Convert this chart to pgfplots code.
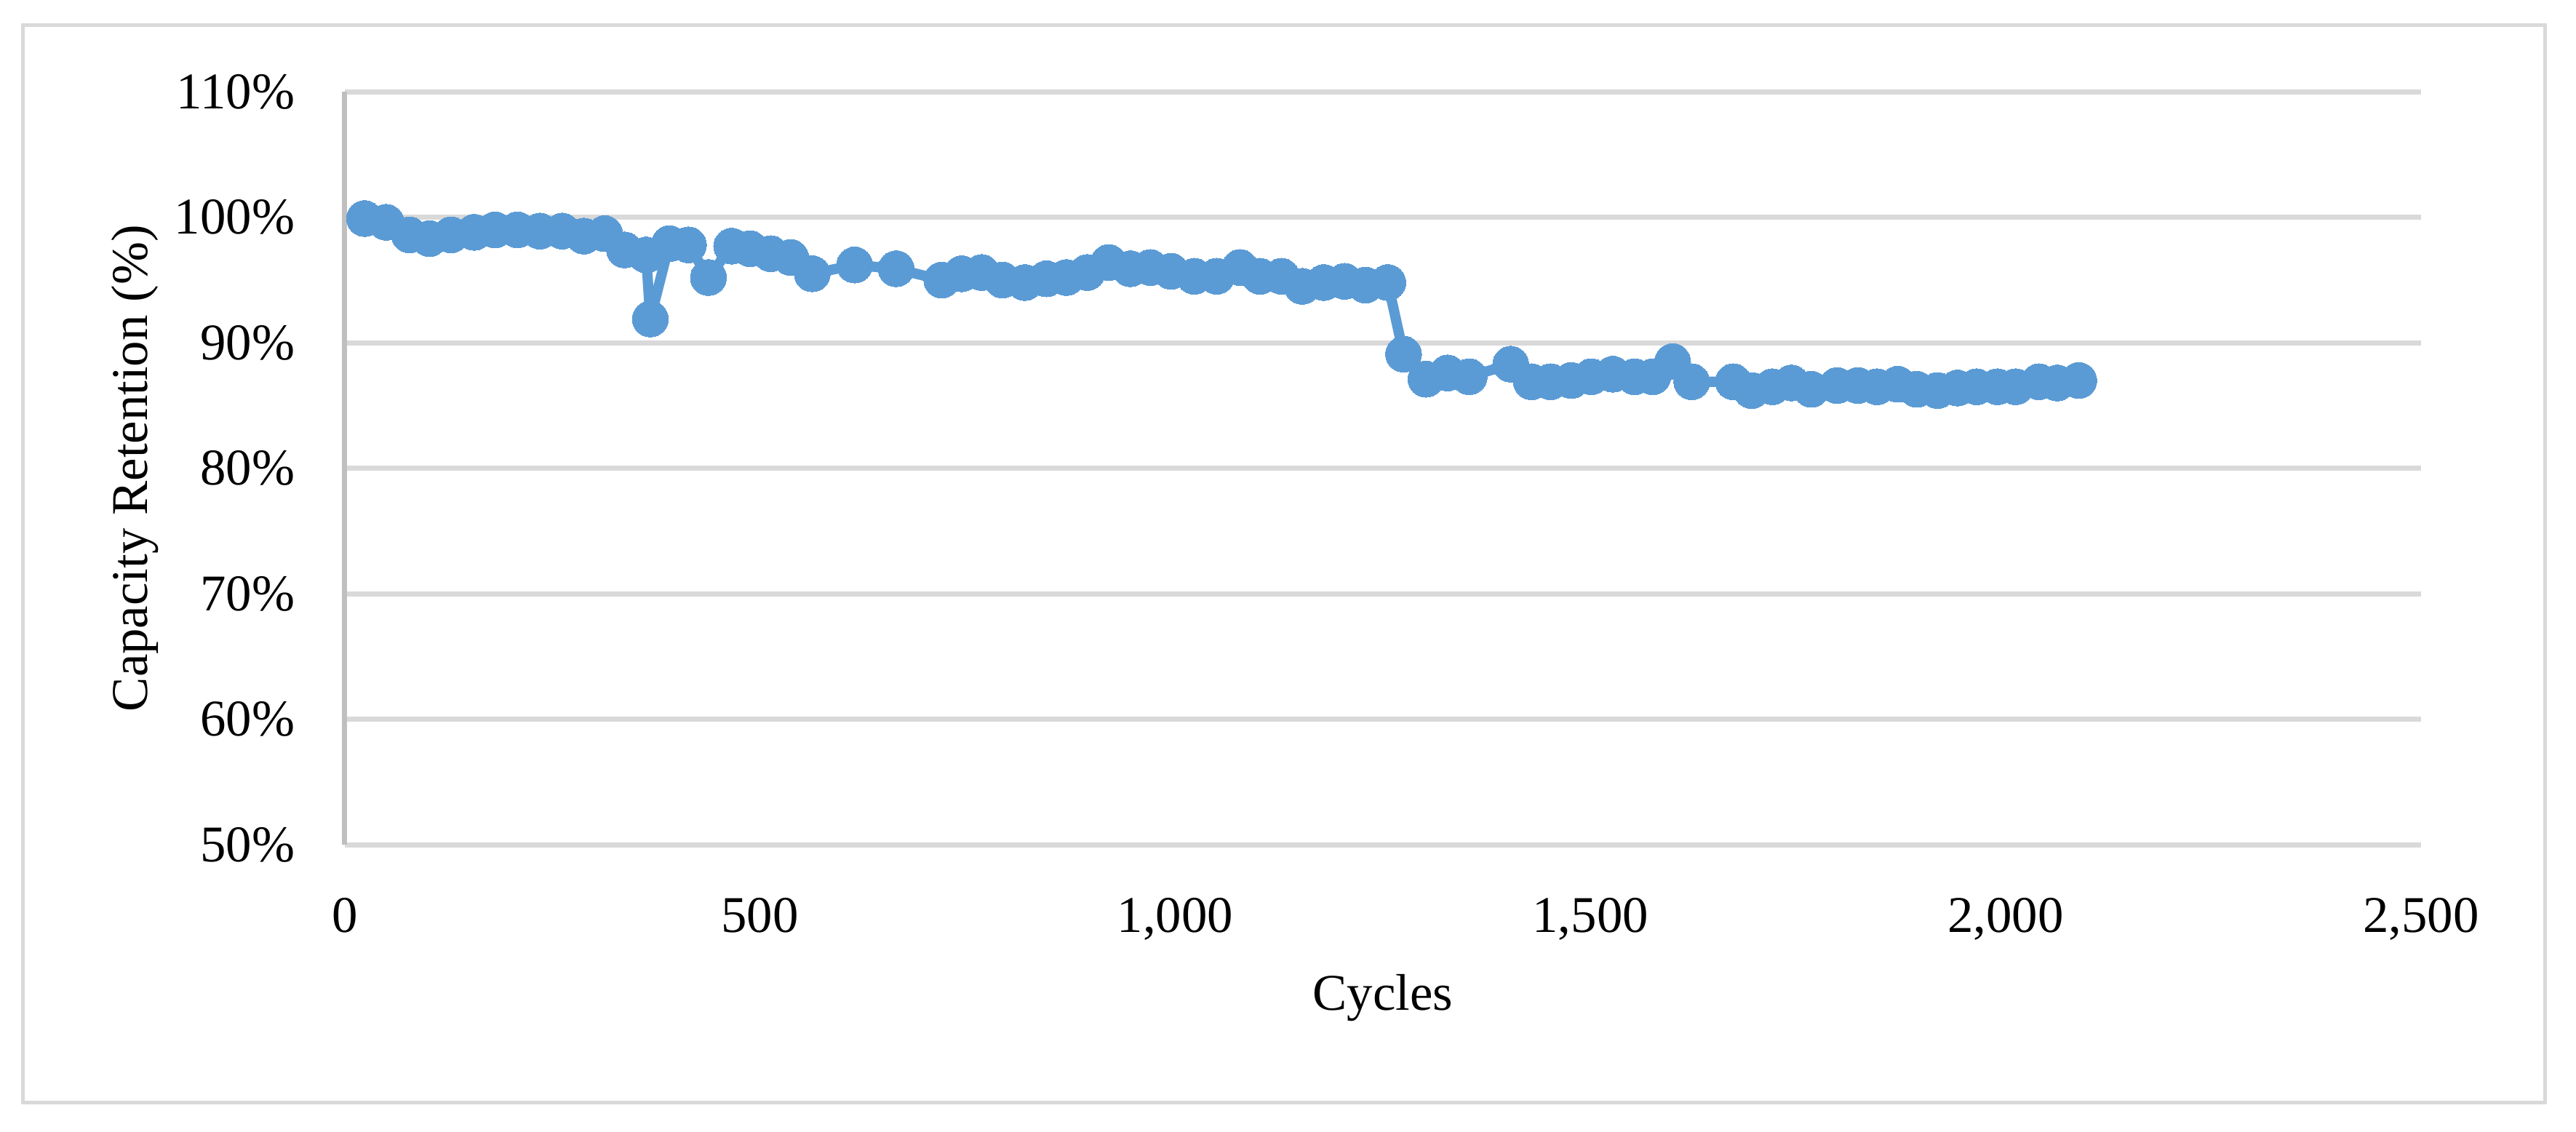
\documentclass[border=0pt]{standalone}
\usepackage{fontspec}
\setmainfont{Liberation Serif}
\usepackage{pgfplots}
\pgfplotsset{compat=1.18}
\definecolor{series}{HTML}{5B9BD5}
\definecolor{gridc}{HTML}{D9D9D9}
\definecolor{axc}{HTML}{BFBFBF}
\begin{document}
\begin{tikzpicture}
\fontsize{10}{12}\selectfont
\begin{axis}[
  at={(0pt,0pt)}, anchor=south west,
  scale only axis, width=403pt, height=146.2pt,
  xmin=0, xmax=2500, ymin=50, ymax=110,
  xtick={0,500,1000,1500,2000,2500},
  xticklabels={0,500,{1,000},{1,500},{2,000},{2,500}},
  ytick={50,60,70,80,90,100,110},
  yticklabels={50\%,60\%,70\%,80\%,90\%,100\%,110\%},
  major tick length=0pt,
  ymajorgrids,
  grid style={gridc, line width=1pt},
  axis x line*=bottom, axis y line*=left,
  x axis line style={gridc, line width=1pt, -},
  y axis line style={axc, line width=1pt, -},
  xticklabel style={anchor=base, inner sep=0pt, yshift=-17pt, font=\fontsize{10}{12}\selectfont},
  yticklabel style={anchor=east, inner sep=0pt, xshift=-9.5pt, font=\fontsize{10}{12}\selectfont},
  xlabel={Cycles}, ylabel={Capacity Retention (\%)},
  every axis x label/.style={at={(axis description cs:0.5,0)}, anchor=center, yshift=-29.6pt, font=\fontsize{10}{12}\selectfont},
  every axis y label/.style={at={(axis description cs:-0.101,0.5)}, anchor=center, rotate=90, font=\fontsize{10}{12}\selectfont},
  clip=false,
]
\addplot[series, line width=2pt, line join=round, mark=*, mark size=3.5pt, mark options={fill=series, draw=series, line width=0pt}] coordinates {
(24,99.9) (50,99.6) (78,98.6) (102,98.3) (128,98.6) (156,98.8) (181,99.0) (208,99.0)
(235,98.9) (262,98.9) (288,98.5) (313,98.7) (337,97.4) (363,97.0) (368,91.9) (391,97.9)
(414,97.8) (438,95.2) (466,97.7) (488,97.5) (513,97.1) (537,96.8) (563,95.5) (614,96.2)
(664,95.9) (719,95.0) (743,95.5) (767,95.6) (792,95.0) (819,94.8) (845,95.1) (869,95.2)
(894,95.6) (920,96.4) (946,95.9) (970,96.0) (995,95.7) (1023,95.3) (1050,95.3) (1078,96.0)
(1102,95.3) (1128,95.3) (1153,94.5) (1179,94.8) (1204,94.9) (1229,94.6) (1256,94.8)
(1275,89.1) (1302,87.1) (1328,87.6) (1354,87.3) (1404,88.3) (1429,86.9) (1452,86.9)
(1477,87.0) (1501,87.3) (1527,87.5) (1553,87.3) (1575,87.3) (1599,88.5) (1622,86.9)
(1672,86.9) (1694,86.2) (1719,86.5) (1742,86.8) (1766,86.3) (1797,86.6) (1822,86.6)
(1845,86.5) (1870,86.7) (1893,86.3) (1918,86.2) (1942,86.4) (1965,86.5) (1990,86.5)
(2012,86.5) (2040,86.9) (2062,86.8) (2088,87.0)
};
\end{axis}
\draw[gridc, line width=0.7pt] (-62.4pt,-50pt) rectangle (427.1pt,159.1pt);
\pgfresetboundingbox
\useasboundingbox (-66.9pt,-55.7pt) rectangle (433.1pt,164pt);
\end{tikzpicture}
\end{document}
